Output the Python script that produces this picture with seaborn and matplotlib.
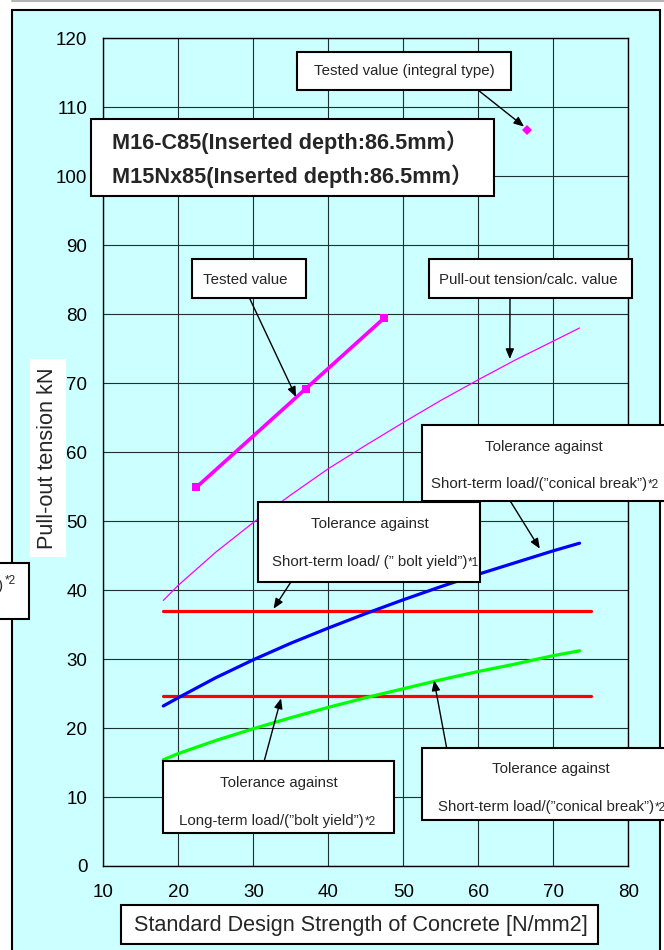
import matplotlib
matplotlib.use("Agg")
import matplotlib.pyplot as plt
from matplotlib import font_manager
from matplotlib.patches import Rectangle
from matplotlib.lines import Line2D
import pandas as pd
import seaborn as sns

# ---- data -------------------------------------------------------------
fc = [18, 20, 25, 30, 35, 40, 45, 50, 55, 60, 65, 70, 73.5]
calc_tension = [38.5, 40.7, 45.5, 49.8, 53.8, 57.6, 61.0, 64.3, 67.5, 70.5, 73.4, 76.1, 78.0]
conical_upper = [23.2, 24.4, 27.3, 29.9, 32.3, 34.5, 36.6, 38.6, 40.5, 42.3, 44.0, 45.7, 46.8]
conical_lower = [15.4, 16.3, 18.2, 19.9, 21.5, 23.0, 24.4, 25.7, 27.0, 28.2, 29.3, 30.5, 31.2]
bolt_fc = [18, 75]
bolt_short = [37.0, 37.0]
bolt_long = [24.7, 24.7]
tested_fc = [22.4, 37.0, 47.4]
tested_val = [54.9, 69.2, 79.4]
integral_fc = [66.5]
integral_val = [106.7]
x_ticks = [10, 20, 30, 40, 50, 60, 70, 80]
y_ticks = [0, 10, 20, 30, 40, 50, 60, 70, 80, 90, 100, 110, 120]

curves = pd.DataFrame({"fc": fc, "calc": calc_tension,
                       "upper": conical_upper, "lower": conical_lower})

# ---- style ------------------------------------------------------------
sns.set_style("white")
names = {f.name for f in font_manager.fontManager.ttflist}
NARROW = "Liberation Sans Narrow" if "Liberation Sans Narrow" in names else "Liberation Sans"
SCALE = 1.0 if NARROW == "Liberation Sans Narrow" else 0.84
plt.rcParams["font.family"] = ["Liberation Sans", "DejaVu Sans"]

CYAN = "#CCFFFF"
MAGENTA = "#FF00FF"

W, H = 664, 950
fig = plt.figure(figsize=(W / 100, H / 100), dpi=100, facecolor="white")


def fx(x):
    return x / W


def fy(y):
    return 1 - y / H


# outer frame and thin top rule
fig.add_artist(Rectangle((fx(12), fy(970)), (659.5 - 12) / W, (970 - 10) / H,
                         transform=fig.transFigure, fc=CYAN, ec="black",
                         lw=1.5, zorder=-1))
fig.add_artist(Line2D([fx(12), 1.0], [fy(1), fy(1)], transform=fig.transFigure,
                      color="#b4b4b4", lw=1.5, zorder=-1))
# x-label panel
fig.add_artist(Rectangle((fx(121), fy(944)), (598 - 121) / W, (944 - 905) / H,
                         transform=fig.transFigure, fc="white", ec="black",
                         lw=1.5, zorder=-0.5))

ax = fig.add_axes([fx(103.3), fy(866), (628.3 - 103.3) / W, (866 - 38.3) / H])
ax.set_facecolor(CYAN)

# ---- series -----------------------------------------------------------
sns.lineplot(x=bolt_fc, y=bolt_short, ax=ax, color="#FF0000", lw=2.3)
sns.lineplot(x=bolt_fc, y=bolt_long, ax=ax, color="#FF0000", lw=2.3)
sns.lineplot(data=curves, x="fc", y="calc", ax=ax, color=MAGENTA, lw=0.9)
sns.lineplot(data=curves, x="fc", y="upper", ax=ax, color="#0000FF", lw=2.3)
sns.lineplot(data=curves, x="fc", y="lower", ax=ax, color="#00FF00", lw=2.3)
sns.lineplot(x=tested_fc, y=tested_val, ax=ax, color=MAGENTA, lw=2.6,
             marker="s", markersize=5.8, markeredgewidth=0)
sns.lineplot(x=integral_fc, y=integral_val, ax=ax, color=MAGENTA,
             marker="D", markersize=5.2, markeredgewidth=0, lw=0)

ax.set_xlim(10, 80)
ax.set_ylim(0, 120)
ax.set_xticks(x_ticks)
ax.set_yticks(y_ticks)
ax.grid(True, color="#203030", lw=0.8)
ax.set_axisbelow(True)
for s in ax.spines.values():
    s.set_color("black")
    s.set_linewidth(1.0)
ax.tick_params(length=0, labelsize=13.5, colors="black")
ax.tick_params(axis="x", pad=13)
ax.tick_params(axis="y", pad=11.5)

ax.set_xlabel("Standard Design Strength of Concrete [N/mm2]",
              fontsize=18.5 * SCALE, family=NARROW)
ax.xaxis.set_label_coords(fx(361), fy(925), transform=fig.transFigure)
ax.xaxis.label.set_va("center")
ax.set_ylabel("Pull-out tension kN", fontsize=18.5 * SCALE, family=NARROW,
              bbox=dict(boxstyle="square,pad=0.36", fc="white", ec="none"))
ax.yaxis.set_label_coords(fx(48), fy(458), transform=fig.transFigure)
ax.yaxis.label.set_va("center")

# ---- callouts -----------------------------------------------------------
arrow = dict(arrowstyle="-|>,head_length=0.6,head_width=0.25", color="black",
             lw=1.0, shrinkA=0, shrinkB=0)


def point_to(tip, tail):
    ax.annotate("", xy=tip, xycoords="data",
                xytext=(fx(tail[0]), fy(tail[1])), textcoords="figure fraction",
                arrowprops=arrow)


point_to((66.1, 107.2), (478, 90))
point_to((35.7, 68.0), (249.3, 297.7))
point_to((64.2, 73.5), (510, 297.7))
point_to((68.2, 46.0), (510, 500.7))
point_to((32.7, 37.3), (290.7, 582.3))
point_to((33.7, 24.3), (264.3, 760.7))
point_to((54.1, 26.9), (446.7, 748.3))

NOTE = 12.9 * SCALE
SUP = 8.5


def panel(x0, y0, x1, y1):
    fig.add_artist(Rectangle((fx(x0), fy(y1)), (x1 - x0) / W, (y1 - y0) / H,
                             transform=fig.transFigure, fc="white", ec="black",
                             lw=1.5, zorder=1))


def note(x, y, s, ha="center", size=NOTE, **kw):
    return fig.text(fx(x), fy(y), s, ha=ha, va="center", fontsize=size,
                    family=[NARROW, "Noto Sans CJK JP"], zorder=3, **kw)


with_sup = []

panel(297, 52, 511, 90)
note(404, 70.5, "Tested value (integral type)")

panel(91, 119, 494, 196)
note(111.7, 142.7, "M16-C85(Inserted depth:86.5mm）", ha="left", size=18.5 * SCALE, weight="bold")
note(111.7, 176, "M15Nx85(Inserted depth:86.5mm）", ha="left", size=18.5 * SCALE, weight="bold")

panel(192, 259, 306, 298)
note(245, 280, "Tested value")

panel(429, 259, 632, 298)
note(528.7, 280, "Pull-out tension/calc. value")

panel(422, 425, 672, 501)
note(544, 446.7, "Tolerance against")
with_sup.append((note(431, 484.3, "Short-term load/(”conical break”)", ha="left"), "*2"))

panel(258, 502, 480, 582)
note(369.5, 524, "Tolerance against")
with_sup.append((note(271.7, 562.3, "Short-term load/ (” bolt yield”)", ha="left"), "*1"))

panel(163, 761, 394, 833)
note(279.3, 782.7, "Tolerance against")
with_sup.append((note(179.3, 820.7, "Long-term load/(”bolt yield”)", ha="left"), "*2"))

panel(422, 748, 672, 820)
note(550.7, 769.3, "Tolerance against")
with_sup.append((note(437.7, 807.3, "Short-term load/(”conical break”)", ha="left"), "*2"))

panel(-80, 563, 29, 619)
note(3, 586, "Short-term load/(”conical break”)", ha="right")
fig.text(fx(5), fy(575), "*2", ha="left", va="top", fontsize=SUP,
         family=NARROW, zorder=3)

# superscript markers placed right after their line of text
fig.canvas.draw()
renderer = fig.canvas.get_renderer()
for txt, sup in with_sup:
    bb = txt.get_window_extent(renderer)
    fig.text((bb.x1 + 1) / fig.bbox.width, (bb.y1 - 2) / fig.bbox.height, sup,
             ha="left", va="top", fontsize=SUP, family=NARROW, zorder=3)

fig.savefig("out.png", dpi=100, facecolor="white")
